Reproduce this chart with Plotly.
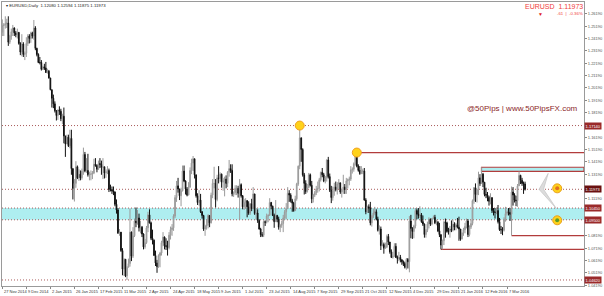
import plotly.graph_objects as go

# ---------------- data (EURUSD daily, Nov 17 2014 .. Mar 23 2016) ----------------
first_open = 1.2470
close = [
 # Nov 2014
 1.2525,1.2530,1.2540,1.2545,1.2390,1.2440,1.2475,1.2505,1.2465,1.2450,
 # Dec 2014
 1.2470,1.2380,1.2310,1.2375,1.2290,1.2300,1.2380,1.2440,1.2420,1.2465,1.2440,1.2505,1.2340,1.2290,1.2225,1.2225,1.2170,1.2190,1.2180,1.2145,1.2155,1.2100,
 # Jan 2015
 1.2005,1.1935,1.1890,1.1835,1.1795,1.1840,1.1830,1.1770,1.1790,1.1630,1.1565,1.1620,1.1550,1.1610,1.1365,1.1205,1.1245,1.1380,1.1290,1.1320,1.1290,
 # Feb 2015
 1.1345,1.1480,1.1345,1.1350,1.1315,1.1320,1.1320,1.1330,1.1400,1.1390,1.1360,1.1405,1.1400,1.1375,1.1380,1.1330,1.1340,1.1350,1.1195,1.1195,
 # Mar 2015
 1.1185,1.1175,1.1075,1.1030,1.0840,1.0850,1.0700,1.0550,1.0630,1.0495,1.0565,1.0595,1.0850,1.0655,1.0820,1.0940,1.0925,1.0965,1.0885,1.0890,1.0835,1.0730,
 # Apr 2015
 1.0765,1.0885,1.0990,1.0925,1.0800,1.0785,1.0660,1.0600,1.0570,1.0660,1.0680,1.0765,1.0810,1.0740,1.0735,1.0725,1.0825,1.0870,1.0885,1.0980,1.1130,1.1225,
 # May 2015
 1.1200,1.1145,1.1185,1.1345,1.1265,1.1200,1.1150,1.1215,1.1350,1.1410,1.1445,1.1315,1.1145,1.1090,1.1110,1.1015,1.0985,1.0875,1.0900,1.0905,1.0985,
 # Jun 2015
 1.0925,1.1150,1.1245,1.1245,1.1115,1.1290,1.1285,1.1320,1.1255,1.1265,1.1280,1.1245,1.1335,1.1365,1.1350,1.1160,1.1170,1.1205,1.1205,1.1165,1.1235,1.1145,
 # Jul 2015
 1.1055,1.1090,1.1105,1.1055,1.1005,1.1080,1.1040,1.1160,1.1000,1.1005,1.0945,1.0875,1.0830,1.0825,1.0935,1.0930,1.0980,1.0985,1.1090,1.1060,1.0985,1.0935,1.0985,
 # Aug 2015
 1.0955,1.0890,1.0905,1.0920,1.0965,1.1015,1.1040,1.1165,1.1150,1.1105,1.1085,1.1025,1.1120,1.1240,1.1385,1.1615,1.1520,1.1315,1.1245,1.1180,1.1210,
 # Sep 2015
 1.1315,1.1230,1.1120,1.1150,1.1170,1.1200,1.1205,1.1275,1.1335,1.1315,1.1265,1.1290,1.1435,1.1300,1.1190,1.1130,1.1185,1.1215,1.1195,1.1240,1.1250,1.1175,
 # Oct 2015
 1.1195,1.1215,1.1195,1.1265,1.1275,1.1280,1.1355,1.1360,1.1405,1.1470,1.1385,1.1350,1.1325,1.1345,1.1345,1.1110,1.1015,1.1055,1.1045,1.0925,1.0980,1.1005,
 # Nov 2015
 1.1015,1.0955,1.0865,1.0875,1.0740,1.0750,1.0720,1.0730,1.0815,1.0770,1.0690,1.0645,1.0655,1.0735,1.0645,1.0635,1.0645,1.0625,1.0610,1.0595,1.0565,
 # Dec 2015
 1.0630,1.0610,1.0940,1.0880,1.0855,1.0900,1.1025,1.0995,1.0985,1.0990,1.0935,1.0915,1.0830,1.0865,1.0915,1.0955,1.0915,1.0960,1.0970,1.0925,1.0930,1.0860,
 # Jan 2016
 1.0830,1.0745,1.0780,1.0930,1.0925,1.0855,1.0855,1.0875,1.0865,1.0915,1.0890,1.0910,1.0890,1.0875,1.0795,1.0845,1.0870,1.0895,1.0940,1.0830,
 # Feb 2016
 1.0890,1.0920,1.1105,1.1210,1.1155,1.1195,1.1290,1.1245,1.1320,1.1255,1.1155,1.1150,1.1130,1.1100,1.1130,1.1025,1.1015,1.1010,1.1025,1.0935,1.0870,
 # Mar 2016
 1.0870,1.0865,1.0955,1.1000,1.1015,1.1010,1.0995,1.1175,1.1150,1.1110,1.1105,1.1225,1.1310,1.1270,1.1245,1.1240,1.1197,
]
high = [
 1.2575,1.2545,1.2600,1.2580,1.2600,1.2450,1.2500,1.2530,1.2510,1.2480,
 1.2500,1.2470,1.2390,1.2455,1.2390,1.2315,1.2430,1.2455,1.2455,1.2475,1.2475,1.2570,1.2520,1.2345,1.2300,1.2270,1.2245,1.2200,1.2215,1.2230,1.2175,1.2165,
 1.2085,1.1970,1.1965,1.1910,1.1840,1.1845,1.1870,1.1850,1.1810,1.1860,1.1620,1.1640,1.1640,1.1680,1.1680,1.1365,1.1280,1.1425,1.1390,1.1360,1.1350,
 1.1365,1.1535,1.1500,1.1450,1.1485,1.1340,1.1350,1.1345,1.1445,1.1450,1.1400,1.1430,1.1450,1.1430,1.1450,1.1380,1.1360,1.1385,1.1365,1.1235,
 1.1220,1.1220,1.1180,1.1115,1.1045,1.0875,1.0850,1.0720,1.0640,1.0630,1.0575,1.0635,1.1040,1.0855,1.0890,1.0960,1.1050,1.1030,1.1000,1.0940,1.0900,1.0840,
 1.0795,1.0900,1.1015,1.1035,1.0935,1.0870,1.0790,1.0700,1.0625,1.0670,1.0690,1.0780,1.0850,1.0815,1.0800,1.0780,1.0850,1.0895,1.0915,1.0995,1.1150,1.1265,
 1.1290,1.1200,1.1210,1.1390,1.1390,1.1270,1.1215,1.1255,1.1375,1.1445,1.1467,1.1445,1.1315,1.1165,1.1190,1.1160,1.1020,1.0990,1.0910,1.0955,1.0995,
 1.0985,1.1170,1.1280,1.1380,1.1280,1.1315,1.1385,1.1335,1.1325,1.1290,1.1300,1.1310,1.1345,1.1435,1.1400,1.1400,1.1180,1.1230,1.1230,1.1225,1.1280,1.1245,
 1.1150,1.1120,1.1125,1.1110,1.1100,1.1085,1.1120,1.1215,1.1145,1.1045,1.1035,1.0955,1.0885,1.0850,1.0945,1.0945,1.1000,1.0995,1.1125,1.1095,1.1065,1.1000,1.1110,
 1.0990,1.0975,1.0915,1.0940,1.0990,1.1030,1.1085,1.1215,1.1190,1.1165,1.1120,1.1095,1.1145,1.1250,1.1390,1.1714,1.1600,1.1530,1.1330,1.1270,1.1240,
 1.1330,1.1325,1.1265,1.1160,1.1185,1.1225,1.1260,1.1290,1.1340,1.1370,1.1330,1.1305,1.1440,1.1460,1.1325,1.1225,1.1220,1.1250,1.1260,1.1255,1.1280,1.1240,
 1.1200,1.1315,1.1240,1.1290,1.1285,1.1300,1.1385,1.1375,1.1415,1.1475,1.1495,1.1400,1.1385,1.1385,1.1365,1.1370,1.1125,1.1065,1.1075,1.1095,1.0990,1.1040,
 1.1055,1.1035,1.0975,1.0905,1.0895,1.0785,1.0765,1.0765,1.0830,1.0835,1.0745,1.0710,1.0690,1.0760,1.0760,1.0660,1.0690,1.0665,1.0630,1.0620,1.0610,
 1.0640,1.0640,1.0980,1.0990,1.0890,1.0910,1.1045,1.1040,1.1045,1.1060,1.1005,1.0985,1.0920,1.0875,1.0935,1.0970,1.0960,1.0965,1.0985,1.0990,1.0950,1.0940,
 1.0925,1.0830,1.0790,1.0940,1.0960,1.0935,1.0885,1.0900,1.0945,1.0950,1.0930,1.0925,1.0965,1.0975,1.0875,1.0845,1.0885,1.0925,1.0960,1.0955,
 1.0905,1.0950,1.1115,1.1215,1.1245,1.1200,1.1340,1.1320,1.1376,1.1330,1.1255,1.1210,1.1175,1.1145,1.1165,1.1085,1.1045,1.1045,1.1050,1.1070,1.0965,
 1.0900,1.0890,1.0970,1.1055,1.1035,1.1045,1.1045,1.1220,1.1215,1.1165,1.1145,1.1240,1.1342,1.1315,1.1290,1.1260,1.1259,
]
low = [
 1.2440,1.2440,1.2500,1.2505,1.2360,1.2375,1.2410,1.2440,1.2440,1.2430,
 1.2420,1.2370,1.2285,1.2275,1.2270,1.2245,1.2270,1.2360,1.2380,1.2385,1.2420,1.2410,1.2325,1.2275,1.2220,1.2210,1.2160,1.2165,1.2165,1.2140,1.2135,1.2095,
 1.2000,1.1860,1.1855,1.1820,1.1755,1.1760,1.1800,1.1750,1.1725,1.1570,1.1460,1.1565,1.1540,1.1530,1.1315,1.1115,1.1098,1.1210,1.1280,1.1265,1.1270,
 1.1275,1.1315,1.1335,1.1330,1.1300,1.1270,1.1270,1.1280,1.1320,1.1380,1.1335,1.1355,1.1370,1.1315,1.1280,1.1285,1.1290,1.1320,1.1175,1.1180,
 1.1160,1.1150,1.1060,1.1000,1.0840,1.0820,1.0690,1.0500,1.0495,1.0485,1.0462,1.0565,1.0570,1.0615,1.0640,1.0810,1.0890,1.0910,1.0855,1.0840,1.0810,1.0710,
 1.0715,1.0755,1.0850,1.0920,1.0785,1.0750,1.0660,1.0575,1.0520,1.0560,1.0565,1.0660,1.0735,1.0710,1.0705,1.0660,1.0710,1.0790,1.0820,1.0860,1.0965,1.1095,
 1.1170,1.1110,1.1060,1.1180,1.1255,1.1155,1.1140,1.1150,1.1210,1.1320,1.1345,1.1285,1.1130,1.1070,1.1065,1.1005,1.0960,1.0860,1.0820,1.0870,1.0880,
 1.0890,1.0920,1.1125,1.1205,1.1050,1.1100,1.1245,1.1260,1.1210,1.1185,1.1140,1.1205,1.1215,1.1300,1.1330,1.1140,1.1135,1.1150,1.1150,1.1130,1.0955,1.1130,
 1.1035,1.1030,1.1045,1.0970,1.0990,1.0990,1.1020,1.1050,1.0990,1.0950,1.0925,1.0870,1.0810,1.0810,1.0810,1.0900,1.0920,1.0930,1.0990,1.1035,1.0980,1.0885,1.0935,
 1.0930,1.0870,1.0850,1.0885,1.0850,1.0950,1.0955,1.1040,1.1095,1.1090,1.1015,1.1015,1.1020,1.1105,1.1225,1.1360,1.1420,1.1300,1.1155,1.1160,1.1170,
 1.1215,1.1220,1.1085,1.1090,1.1135,1.1150,1.1170,1.1180,1.1260,1.1295,1.1255,1.1245,1.1260,1.1285,1.1175,1.1085,1.1105,1.1145,1.1180,1.1155,1.1200,1.1160,
 1.1130,1.1160,1.1160,1.1160,1.1205,1.1230,1.1265,1.1325,1.1340,1.1390,1.1375,1.1340,1.1315,1.1320,1.1320,1.1105,1.0995,1.1005,1.1005,1.0905,1.0895,1.0965,
 1.0990,1.0945,1.0855,1.0830,1.0705,1.0735,1.0675,1.0715,1.0720,1.0745,1.0675,1.0640,1.0635,1.0650,1.0640,1.0595,1.0615,1.0605,1.0585,1.0575,1.0555,
 1.0545,1.0555,1.0524,1.0800,1.0795,1.0800,1.0880,1.0955,1.0960,1.0965,1.0925,1.0900,1.0805,1.0805,1.0850,1.0880,1.0900,1.0905,1.0955,1.0915,1.0905,1.0850,
 1.0810,1.0710,1.0710,1.0745,1.0805,1.0845,1.0830,1.0805,1.0850,1.0855,1.0865,1.0865,1.0880,1.0780,1.0780,1.0790,1.0820,1.0840,1.0880,1.0810,
 1.0815,1.0875,1.0905,1.1080,1.1095,1.1090,1.1150,1.1225,1.1245,1.1215,1.1140,1.1125,1.1100,1.1065,1.1075,1.1005,1.0985,1.0960,1.0995,1.0920,1.0860,
 1.0835,1.0825,1.0855,1.0935,1.0985,1.0985,1.0940,1.0822,1.1065,1.1090,1.1060,1.1055,1.1225,1.1240,1.1225,1.1160,1.1187,
]

date_labels = ["27 Nov 2014","9 Dec 2014","2 Jan 2015","26 Jan 2015","17 Feb 2015","11 Mar 2015",
               "2 Apr 2015","24 Apr 2015","18 May 2015","9 Jun 2015","1 Jul 2015","23 Jul 2015",
               "14 Aug 2015","7 Sep 2015","29 Sep 2015","21 Oct 2015","12 Nov 2015","4 Dec 2015",
               "29 Dec 2015","21 Jan 2016","12 Feb 2016","7 Mar 2016"]
date_label_bars = [0,16,32,48,64,80,96,112,128,144,160,176,192,208,224,240,256,272,288,304,320,336]

ytick_vals = [1.2619,1.2519,1.2419,1.2319,1.2219,1.2119,1.2019,1.1919,1.1819,1.1619,1.1519,
              1.1419,1.1319,1.1119,1.0819,1.0719,1.0619,1.0519,1.0419]
ytick_text = ["1.26190","1.25190","1.24190","1.23190","1.22190","1.21190","1.20190","1.19190","1.18190",
              "1.16190","1.15190","1.14190","1.13190","1.11190",
              "1.08190","1.07190","1.06190","1.05190","1.04190"]

dotted_levels = [1.17140, 1.11973, 1.04620]
zone_low, zone_high = 1.0950, 1.1045
ray_starts = [236, 292, 339]          # bar index where each horizontal ray starts
ray_levels = [1.1495, 1.0710, 1.0822]
box_start, box_low, box_high = 319, 1.1342, 1.1376
peak_bars = [198, 236]
peak_levels = [1.1714, 1.1495]
price_labels = ["1.17140", "1.11973", "1.10450", "1.09500", "1.04620"]
price_label_levels = [1.17140, 1.11973, 1.1045, 1.0950, 1.04620]

# ---------------- figure ----------------
n = len(close)
bars = list(range(n))
opens = [first_open] + close[:-1]
hi = [max(h, o, c) for h, o, c in zip(high, opens, close)]
lo = [min(l, o, c) for l, o, c in zip(low, opens, close)]

X0, X1 = -0.2, 387.24
Y0, Y1 = 1.04131, 1.27159
BROWN = "#b23c3c"
DOT = "#a85a5a"

fig = go.Figure()
fig.add_trace(go.Candlestick(
    x=bars, open=opens, high=hi, low=lo, close=close,
    increasing=dict(line=dict(color="#9a9a9a", width=1), fillcolor="#b8b8b8"),
    decreasing=dict(line=dict(color="#111111", width=1), fillcolor="#111111"),
    whiskerwidth=0, hoverinfo="skip", showlegend=False))

shapes = []
# support zone
shapes.append(dict(type="rect", xref="paper", x0=0, x1=1, yref="y", y0=zone_low, y1=zone_high,
                   fillcolor="#aeeef0", line=dict(width=0), layer="below"))
for lv in (zone_low, zone_high):
    shapes.append(dict(type="line", xref="paper", x0=0, x1=1, yref="y", y0=lv, y1=lv,
                       line=dict(color=DOT, width=1, dash="1px,2px"), layer="below"))
for lv in dotted_levels:
    shapes.append(dict(type="line", xref="paper", x0=0, x1=1, yref="y", y0=lv, y1=lv,
                       line=dict(color=DOT, width=1, dash="1px,2px"), layer="below"))
# resistance box
shapes.append(dict(type="rect", xref="x", x0=box_start, x1=X1, yref="y", y0=box_low, y1=box_high,
                   fillcolor="#aeeef0", line=dict(color=BROWN, width=1.2), layer="below"))
for s, lv in zip(ray_starts, ray_levels):
    shapes.append(dict(type="line", xref="x", x0=s, x1=X1, yref="y", y0=lv, y1=lv,
                       line=dict(color=BROWN, width=1.3), layer="below"))
# grey chevron
shapes.append(dict(type="path", xref="x", yref="y",
                   path="M 363.4,1.13262 L 357.3,1.11969 L 368.7,1.10434 L 360.3,1.11969 Z",
                   fillcolor="#dcdcdc", line=dict(color="#c8c8c8", width=0.8), layer="above"))
fig.update_layout(shapes=shapes)

# yellow pivot circles
fig.add_trace(go.Scatter(x=peak_bars, y=peak_levels, mode="markers",
                         marker=dict(size=9, color="#ffd21a", line=dict(color="#f0a020", width=1)),
                         hoverinfo="skip", showlegend=False))
# signal icons on the right
fig.add_trace(go.Scatter(x=[369.4, 369.4], y=[1.1205, 1.0946], mode="markers",
                         marker=dict(size=9, color="#ffd21a", line=dict(color="#e8a020", width=1)),
                         hoverinfo="skip", showlegend=False))
fig.add_trace(go.Scatter(x=[369.4, 369.4], y=[1.1205, 1.0946], mode="markers",
                         marker=dict(size=4, color=["#e07020", "#5d9a2a"]),
                         hoverinfo="skip", showlegend=False))

ann = []
FONT = "Liberation Sans, Arial, sans-serif"
for b, t in zip(date_label_bars, date_labels):
    ann.append(dict(x=b, xref="x", y=0, yref="paper", text=t, showarrow=False,
                    xanchor="left", yanchor="top", yshift=-1, xshift=0,
                    font=dict(size=4, color="#333", family=FONT)))
for t, lv in zip(price_labels, price_label_levels):
    bg = "#6a1010" if t == "1.11973" else "#9a2a2a"
    ann.append(dict(x=1, xref="paper", y=lv, yref="y", text=t, showarrow=False,
                    xanchor="left", yanchor="middle", xshift=0,
                    bgcolor=bg, borderpad=0.6,
                    font=dict(size=4, color="white", family=FONT)))
ann.append(dict(x=0.9932, xref="paper", y=0.6246, yref="paper", text="@50Pips | www.50PipsFX.com",
                showarrow=False, xanchor="right", yanchor="middle",
                font=dict(size=8, color="#8b1f1f", family=FONT)))
ann.append(dict(x=0.0034, xref="paper", y=0.986, yref="paper",
                text="▾ EURUSD,Daily  1.12080 1.12594 1.11875 1.11973",
                showarrow=False, xanchor="left", yanchor="middle",
                font=dict(size=4.3, color="#222", family=FONT)))
ann.append(dict(x=1.0017, xref="paper", y=0.985, yref="paper", text="EURUSD  1.11973",
                showarrow=False, xanchor="right", yanchor="middle",
                font=dict(size=7, color="#f03c3c", family=FONT)))
ann.append(dict(x=1.0017, xref="paper", y=0.958, yref="paper", text="-61  |  -0.36%",
                showarrow=False, xanchor="right", yanchor="middle",
                font=dict(size=4.3, color="#f03c3c", family=FONT)))
ann.append(dict(x=0.925, xref="paper", y=0.958, yref="paper", text="▼",
                showarrow=False, xanchor="center", yanchor="middle",
                font=dict(size=5, color="#e02020", family=FONT)))

fig.update_layout(
    width=604, height=296,
    margin=dict(l=1, r=17, t=1, b=10),
    paper_bgcolor="white", plot_bgcolor="white",
    showlegend=False, hovermode=False,
    annotations=ann,
    xaxis=dict(range=[X0, X1], rangeslider=dict(visible=False), showgrid=False, zeroline=False,
               tickvals=date_label_bars, ticktext=[""] * len(date_label_bars),
               ticks="outside", ticklen=2, tickcolor="#888",
               showline=True, linecolor="#9a9a9a", linewidth=1, mirror=True, fixedrange=True),
    yaxis=dict(range=[Y0, Y1], side="right", showgrid=False, zeroline=False,
               tickvals=ytick_vals, ticktext=ytick_text, ticks="outside", ticklen=2,
               tickcolor="#888", tickfont=dict(size=4, color="#555", family=FONT),
               showline=True, linecolor="#9a9a9a", linewidth=1, mirror=True, fixedrange=True),
)

fig.write_html("out.html")
